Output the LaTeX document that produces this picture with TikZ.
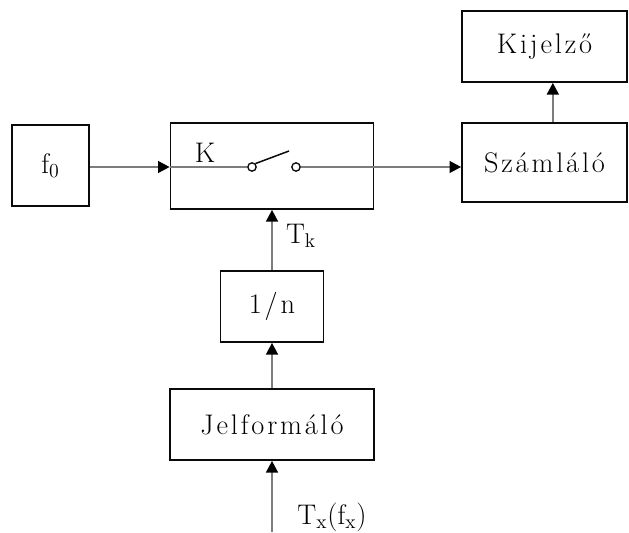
\documentclass[tikz,border=0pt]{standalone}
\usepackage{fontspec}
\usetikzlibrary{arrows.meta, positioning}
\definecolor{VonalSzurke}{RGB}{125,125,125}
\definecolor{KeretFekete}{RGB}{10,10,10}
\newfontfamily\ritkitott{Latin Modern Roman}[LetterSpace=10]
\newcommand{\betu}{\fontsize{17}{20}\ritkitott}

\begin{document}
\begin{tikzpicture}[x=0.6pt, y=-0.6pt,
    blokk/.style={draw=KeretFekete, line width=1pt, inner sep=0pt, font=\betu},
    jel/.style={VonalSzurke, line width=1.4pt, -{Triangle[length=7pt, width=7pt, color=black]}},
    erintkezo/.style={circle, draw=KeretFekete, fill=white, line width=0.8pt, minimum size=5pt, inner sep=0pt}]
    \useasboundingbox (0,0) rectangle (629,532);

    \node[blokk, minimum width=46.2pt, minimum height=48.6pt] (oszc) at (50.5,165.5) {$\mathrm{f_0}$};
    \node[blokk, minimum width=121.8pt, minimum height=51.6pt] (kapu) at (272,166) {};
    \node[font=\betu] (kbetu) at (205,153) {K};
    \node[blokk, minimum width=99pt, minimum height=47.4pt] (szaml) at (544.5,162.5) {Számláló};
    \node[blokk, minimum width=99pt, minimum height=42.6pt] (kijelzo) at (544.5,46.5) {Kijelző};
    \node[blokk, minimum width=61.8pt, minimum height=42.6pt] (oszto) at (272,306.5) {1/n};
    \node[blokk, minimum width=122.4pt, minimum height=42.6pt] (jelform) at (272,424.5) {Jelformáló};
    \coordinate (bemenet) at (272,532);

    % kapcsolo
    \node[erintkezo] (kontA) at (252,167) {};
    \node[erintkezo] (kontB) at (296,167) {};
    \coordinate (kar) at (289,151);
    \draw[KeretFekete, line width=0.9pt] (kontA.north east) -- (kar);

    \draw[jel] (oszc.east |- kontA) -- (kapu.west |- kontA);
    \draw[VonalSzurke, line width=1.4pt] (kapu.west |- kontA) -- (kontA);
    \draw[jel] (kontB) -- (szaml.west |- kontB);
    \draw[jel] ([xshift=5pt]szaml.north) -- ([xshift=5pt]kijelzo.south);
    \draw[jel] (oszto.north) -- (kapu.south);
    \draw[jel] (jelform.north) -- (oszto.south);
    \draw[jel] (bemenet) -- (jelform.south);

    \node[font=\betu] (tk) at (301,236) {$\mathrm{T_k}$};
    \node[font=\betu] (tx) at (332,517) {$\mathrm{T_x(f_x)}$};
\end{tikzpicture}
\end{document}
